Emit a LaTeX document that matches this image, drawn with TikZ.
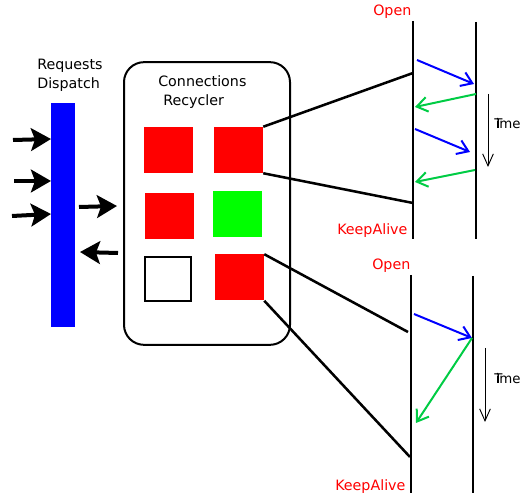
\documentclass[tikz,border=0pt]{standalone}
\usepackage{fontspec}
\setmainfont{DejaVu Sans}
\usetikzlibrary{arrows.meta}
\definecolor{mygreen}{RGB}{0,204,68}
\begin{document}
\begin{tikzpicture}[x=0.75pt,y=-0.75pt,
  lbl/.style={font=\fontsize{10.7}{13}\selectfont, inner sep=0pt, anchor=west},
  redlbl/.style={lbl, text=red},
  timelbl/.style={font=\fontsize{10}{12}\selectfont, inner sep=0pt, anchor=west},
  bigarrow/.style={line width=3pt, -{Stealth[length=15pt,width=17pt,inset=3pt]}},
  sq/.style={minimum width=36.75pt, minimum height=34.5pt, inner sep=0pt, draw=none},
  tline/.style={line width=1.9pt},
  link/.style={line width=1.9pt},
  req/.style={blue, line width=1.5pt, -{Straight Barb[length=8pt,width=11pt,line width=1.5pt]}},
  rep/.style={mygreen, line width=1.5pt, -{Straight Barb[length=8pt,width=11pt,line width=1.5pt]}},
  timearr/.style={line width=0.7pt, -{Straight Barb[length=9pt,width=8pt,line width=0.7pt]}}
]
\useasboundingbox (0,0) rectangle (521,498);

% Requests dispatch
\node[fill=blue, minimum width=18pt, minimum height=168pt, inner sep=0pt] (bar) at (63,215) {};
\node[lbl] (rq) at (37,66) {Requests};
\node[lbl] (dp) at (37,85) {Dispatch};

\coordinate (i1) at (13,140); \coordinate (i1e) at (51,139);
\coordinate (i2) at (14,181); \coordinate (i2e) at (51,181);
\coordinate (i3) at (12,216); \coordinate (i3e) at (51,214);
\draw[bigarrow] (i1) -- (i1e);
\draw[bigarrow] (i2) -- (i2e);
\draw[bigarrow] (i3) -- (i3e);
\coordinate (o1) at (79,207); \coordinate (o1e) at (117,206);
\coordinate (o2) at (118,253); \coordinate (o2e) at (80,252);
\draw[bigarrow] (o1) -- (o1e);
\draw[bigarrow] (o2) -- (o2e);

% Connections recycler
\node[draw, line width=1.5pt, rounded corners=15pt, minimum width=124.5pt, minimum height=212pt, inner sep=0pt] (box) at (207,203.5) {};
\node[lbl] (c1) at (158,81) {Connections};
\node[lbl] (c2) at (163,102) {Recycler};

\node[sq, fill=red] (s1) at (168.5,150) {};
\node[sq, fill=red] (s2) at (238.5,150) {};
\node[sq, fill=red] (s3) at (169.5,216.5) {};
\node[sq, fill=green] (s4) at (237.5,214.5) {};
\node[sq, draw=black, line width=1.5pt, minimum width=34.5pt, minimum height=33pt] (s5) at (168,279) {};
\node[sq, fill=red] (s6) at (239.5,277.5) {};

% Top sequence
\coordinate (a1t) at (413,21); \coordinate (a1b) at (413,239);
\coordinate (a2t) at (476,22); \coordinate (a2b) at (476,239);
\draw[tline] (a1t) -- (a1b);
\draw[tline] (a2t) -- (a2b);
\coordinate (l1) at (413,73); \coordinate (l2) at (413,203);
\draw[link] (s2.north east) -- (l1);
\draw[link] (s2.south east) -- (l2);
\coordinate (r1s) at (417,60); \coordinate (r1e) at (474,84);
\coordinate (g1s) at (476,94); \coordinate (g1e) at (415,107);
\coordinate (r2s) at (415,129); \coordinate (r2e) at (470,152);
\coordinate (g2s) at (475,170); \coordinate (g2e) at (415,182);
\draw[req] (r1s) -- (r1e);
\draw[rep] (g1s) -- (g1e);
\draw[req] (r2s) -- (r2e);
\draw[rep] (g2s) -- (g2e);
\coordinate (t1s) at (488,94); \coordinate (t1e) at (488,167);
\draw[timearr] (t1s) -- (t1e);
\node[timelbl] (tm1) at (494,124) {T\kern-0.5em ime};
\node[redlbl] (op1) at (373,12) {Open};
\node[redlbl] (ka1) at (337,231) {KeepAlive};

% Bottom sequence
\coordinate (b1t) at (411,275); \coordinate (b1b) at (411,493);
\coordinate (b2t) at (473,276); \coordinate (b2b) at (473,493);
\draw[tline] (b1t) -- (b1b);
\draw[tline] (b2t) -- (b2b);
\coordinate (l3) at (408,332); \coordinate (l4) at (410,457);
\draw[link] (s6.north east) -- (l3);
\draw[link] (s6.south east) -- (l4);
\coordinate (r3s) at (414,314); \coordinate (r3e) at (472,338);
\coordinate (g3e) at (416,423);
\draw[req] (r3s) -- (r3e);
\draw[rep] (r3e) -- (g3e);
\coordinate (t2s) at (485,348); \coordinate (t2e) at (485,422);
\draw[timearr] (t2s) -- (t2e);
\node[timelbl] (tm2) at (494,379) {T\kern-0.5em ime};
\node[redlbl] (op2) at (372,266) {Open};
\node[redlbl] (ka2) at (335,487) {KeepAlive};
\end{tikzpicture}
\end{document}
